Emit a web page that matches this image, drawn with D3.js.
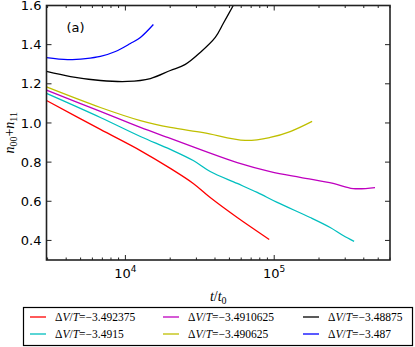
<!DOCTYPE html>
<html>
<head>
<meta charset="utf-8">
<script src="https://cdn.jsdelivr.net/npm/d3@7"></script>
<style>
  body { margin: 0; background: #fff; }
  svg { display: block; }
</style>
</head>
<body>
<script>
// series: t/t0 and n00+n11
let labels = ["-3.492375", "-3.4915", "-3.4910625", "-3.490625", "-3.48875", "-3.487"];
let colors = ["#ff0000", "#00bfbf", "#bf00bf", "#bfbf00", "#000000", "#0000ff"];

let redT = [2950, 6790, 12610, 20040, 28580, 37150, 56430, 92560];
let redY = [1.115, 0.967, 0.859, 0.768, 0.691, 0.619, 0.517, 0.405];

let cyanT = [2950, 6790, 12610, 20040, 28580, 37150, 56430, 76900, 104700, 174500, 237800, 290500, 344300];
let cyanY = [1.151, 1.028, 0.931, 0.865, 0.808, 0.752, 0.691, 0.645, 0.594, 0.517, 0.466, 0.425, 0.395];

let magT = [2950, 6790, 12610, 20040, 33370, 56430, 94000, 149300, 248900, 339000, 476000];
let magY = [1.168, 1.059, 0.977, 0.921, 0.859, 0.798, 0.752, 0.722, 0.691, 0.665, 0.670];

let yelT = [2950, 6790, 12610, 20040, 33370, 63800, 94000, 128000, 179800];
let yelY = [1.184, 1.079, 1.012, 0.977, 0.951, 0.911, 0.926, 0.956, 1.008];

let blkT = [2950, 4276, 6790, 10310, 14720, 20040, 25280, 31830, 40180, 45440, 53080, 59120];
let blkY = [1.263, 1.237, 1.217, 1.212, 1.227, 1.268, 1.299, 1.360, 1.437, 1.508, 1.600, 1.666];

let bluT = [2950, 4084, 5395, 6790, 8570, 10800, 12610, 15420];
let bluY = [1.334, 1.324, 1.329, 1.340, 1.365, 1.406, 1.437, 1.503];

let allT = [redT, cyanT, magT, yelT, blkT, bluT];
let allY = [redY, cyanY, magY, yelY, blkY, bluY];

let yTicks = [0.4, 0.6, 0.8, 1.0, 1.2, 1.4, 1.6];

let W = 415, H = 347;
let margin = {left: 46.5, right: 25, top: 5.5, bottom: 87};
let pw = W - margin.left - margin.right;
let ph = H - margin.top - margin.bottom;

let svg = d3.select("body").append("svg")
    .attr("width", W)
    .attr("height", H);

let x = d3.scaleLog().domain([2950, 6.0e5]).range([0, pw]);
let y = d3.scaleLinear().domain([0.3, 1.6]).range([ph, 0]);

let g = svg.append("g")
    .attr("transform", "translate(" + margin.left + "," + margin.top + ")");

g.append("clipPath").attr("id", "clip")
    .append("rect").attr("width", pw).attr("height", ph);

// lines
let line = d3.line()
    .curve(d3.curveCatmullRom.alpha(0.5))
    .x(function (d) { return x(d[0]); })
    .y(function (d) { return y(d[1]); });

let series = allT.map(function (ts, i) {
    return ts.map(function (t, j) { return [t, allY[i][j]]; });
});

g.append("g").attr("clip-path", "url(#clip)")
    .selectAll("path")
    .data(series)
    .enter().append("path")
    .attr("d", line)
    .attr("fill", "none")
    .attr("stroke", function (d, i) { return colors[i]; })
    .attr("stroke-width", 1.3)
    .attr("stroke-linejoin", "round");

// ticks (inward, all four sides)
let majorX = [1e4, 1e5];
let minorX = [];
[1e3, 1e4, 1e5].forEach(function (dec) {
    for (let k = 2; k <= 9; k++) {
        let v = dec * k;
        if (v >= 2950 && v <= 6.0e5) minorX.push(v);
    }
});

let tickColor = "#222";
let ticks = g.append("g").attr("stroke", tickColor).attr("stroke-width", 1);

minorX.forEach(function (v) {
    ticks.append("line").attr("x1", x(v)).attr("x2", x(v)).attr("y1", ph).attr("y2", ph - 2.5);
    ticks.append("line").attr("x1", x(v)).attr("x2", x(v)).attr("y1", 0).attr("y2", 2.5);
});
majorX.forEach(function (v) {
    ticks.append("line").attr("x1", x(v)).attr("x2", x(v)).attr("y1", ph).attr("y2", ph - 5);
    ticks.append("line").attr("x1", x(v)).attr("x2", x(v)).attr("y1", 0).attr("y2", 5);
});
yTicks.forEach(function (v) {
    ticks.append("line").attr("x1", 0).attr("x2", 5).attr("y1", y(v)).attr("y2", y(v));
    ticks.append("line").attr("x1", pw).attr("x2", pw - 5).attr("y1", y(v)).attr("y2", y(v));
});

// frame
g.append("rect")
    .attr("width", pw).attr("height", ph)
    .attr("fill", "none")
    .attr("stroke", tickColor)
    .attr("stroke-width", 1.6);

// tick labels
g.selectAll(".ylab")
    .data(yTicks)
    .enter().append("text")
    .attr("class", "ylab")
    .attr("x", -5)
    .attr("y", function (d) { return y(d); })
    .attr("dy", "0.36em")
    .attr("text-anchor", "end")
    .style("font", "13px 'DejaVu Sans'")
    .text(function (d) { return d3.format(".1f")(d); });

let xl = g.selectAll(".xlab")
    .data(majorX)
    .enter().append("text")
    .attr("class", "xlab")
    .attr("x", function (d) { return x(d); })
    .attr("y", ph + 18)
    .attr("text-anchor", "middle")
    .style("font", "13px 'DejaVu Sans'");
xl.append("tspan").text("10");
xl.append("tspan").attr("dy", -6).style("font-size", "9px")
    .text(function (d) { return Math.round(Math.log10(d)); });

// panel tag
g.append("text")
    .attr("x", 20).attr("y", 26)
    .style("font", "13px 'DejaVu Sans'")
    .text("(a)");

// axis titles
let xt = svg.append("text")
    .attr("x", margin.left + pw / 2)
    .attr("y", 301)
    .attr("text-anchor", "middle")
    .style("font-family", "'Liberation Serif', serif")
    .style("font-size", "14px");
xt.append("tspan").style("font-style", "italic").text("t");
xt.append("tspan").text("/");
xt.append("tspan").style("font-style", "italic").text("t");
xt.append("tspan").attr("dy", 3).style("font-size", "10px").text("0");

let yt = svg.append("text")
    .attr("transform", "translate(14," + (margin.top + ph / 2) + ") rotate(-90)")
    .attr("text-anchor", "middle")
    .style("font-family", "'Liberation Serif', serif")
    .style("font-size", "14px");
yt.append("tspan").style("font-style", "italic").text("n");
yt.append("tspan").attr("dy", 3).style("font-size", "10px").text("00");
yt.append("tspan").attr("dy", -3).text("+");
yt.append("tspan").style("font-style", "italic").text("n");
yt.append("tspan").attr("dy", 3).style("font-size", "10px").text("11");

// legend
let lg = svg.append("g");
lg.append("rect")
    .attr("x", 23.5).attr("y", 307.5)
    .attr("width", 389).attr("height", 38)
    .attr("fill", "#fff")
    .attr("stroke", "#000")
    .attr("stroke-width", 1.2);

let colX = [30, 163, 303];
let rowY = [317, 334];
// order in the box: column-major, two rows
let items = labels.map(function (l, i) {
    return {label: l, color: colors[i], col: Math.floor(i / 2), row: i % 2};
});

let it = lg.selectAll(".item")
    .data(items)
    .enter().append("g")
    .attr("class", "item")
    .attr("transform", function (d) { return "translate(" + colX[d.col] + "," + rowY[d.row] + ")"; });

it.append("line")
    .attr("x1", 0).attr("x2", 16)
    .attr("stroke", function (d) { return d.color; })
    .attr("stroke-width", 1.3);

let lt = it.append("text")
    .attr("x", 25)
    .attr("dy", "0.35em")
    .style("font-family", "'Liberation Serif', serif")
    .style("font-size", "11.5px");
lt.append("tspan").text("\u0394");
lt.append("tspan").style("font-style", "italic").text("V");
lt.append("tspan").text("/");
lt.append("tspan").style("font-style", "italic").text("T");
lt.append("tspan").text(function (d) { return "=" + d.label.replace("-", "\u2212"); });
</script>
</body>
</html>
